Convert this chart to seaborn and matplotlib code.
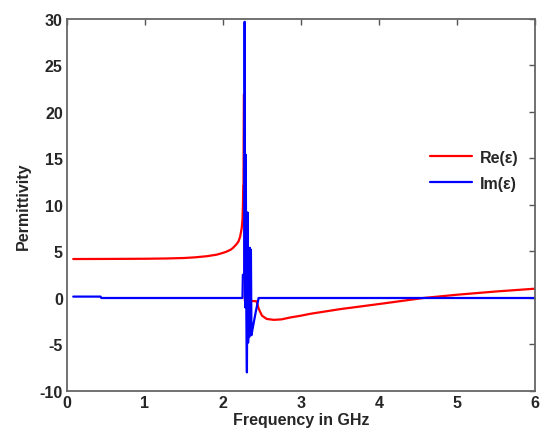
import matplotlib
matplotlib.use("Agg")
import matplotlib.pyplot as plt
import seaborn as sns
import pandas as pd

# Re(eps) (frequency in GHz, permittivity)
re_freq = [0.08, 0.5, 1.0, 1.28, 1.5, 1.64, 1.8, 1.92, 2.0, 2.05, 2.1, 2.13,
           2.17, 2.2, 2.22, 2.24, 2.25, 2.256, 2.26, 2.263, 2.268, 2.272,
           2.28, 2.32, 2.43, 2.46, 2.5, 2.56, 2.65, 2.75, 2.86, 3.0, 3.12,
           3.5, 4.0, 4.57, 5.0, 5.5, 6.0]
re_vals = [4.19, 4.2, 4.22, 4.25, 4.3, 4.37, 4.5, 4.66, 4.85, 5.0, 5.2, 5.4,
           5.75, 6.1, 6.6, 7.5, 8.4, 10.0, 12.0, 12.0, 21.9, 21.9,
           -0.3, -0.3, -0.35, -1.2, -1.9, -2.25, -2.35, -2.3, -2.1, -1.9, -1.7,
           -1.2, -0.65, 0.0, 0.35, 0.7, 1.0]

# Im(eps)
im_freq = [0.08, 0.43, 0.44, 2.25, 2.255, 2.272, 2.278, 2.285, 2.292, 2.300,
           2.307, 2.315, 2.322, 2.330, 2.337, 2.345, 2.352, 2.358, 2.365,
           2.38, 2.42, 2.457, 6.0]
im_vals = [0.15, 0.15, 0.0, 0.0, 2.5, 2.5, 29.7, -1.0, 15.4, -2.0,
           -8.0, 9.2, -4.8, 1.0, -4.2, 5.4, -3.7, 5.2, -4.0,
           -3.3, -1.5, 0.0, 0.0]

x_ticks = [0, 1, 2, 3, 4, 5, 6]
y_ticks = [-10, -5, 0, 5, 10, 15, 20, 25, 30]

df = pd.concat([
    pd.DataFrame({"freq": re_freq, "eps": re_vals, "part": "Re(ε)"}),
    pd.DataFrame({"freq": im_freq, "eps": im_vals, "part": "Im(ε)"}),
], ignore_index=True)

sns.set_style("white")
plt.rcParams["font.family"] = ["Liberation Sans", "DejaVu Sans"]
plt.rcParams["axes.unicode_minus"] = False

fig = plt.figure(figsize=(5.42, 4.31), dpi=100)
ax = fig.add_axes([0.1236, 0.0905, 0.8634, 0.8631])

sns.lineplot(data=df, x="freq", y="eps", hue="part",
             palette={"Re(ε)": "#ff0000", "Im(ε)": "#0000ff"},
             estimator=None, sort=False, linewidth=1.6, ax=ax)

ax.set_xlim(0, 6)
ax.set_ylim(-10, 30)
ax.set_xticks(x_ticks)
ax.set_yticks(y_ticks)
ax.tick_params(direction="in", length=4, width=1, color="#555555",
               top=True, right=True, labelsize=11.5, pad=3)
for lab in ax.get_xticklabels() + ax.get_yticklabels():
    lab.set_fontweight("bold")
for sp in ax.spines.values():
    sp.set_color("#666666")
    sp.set_linewidth(1.3)

ax.set_xlabel("Frequency in GHz", fontsize=11.5, fontweight="bold", labelpad=1)
ax.set_ylabel("Permittivity", fontsize=11.5, fontweight="bold", labelpad=6)

leg = ax.legend(loc="center left", bbox_to_anchor=(0.745, 0.593), frameon=False,
                handlelength=2.6, handletextpad=0.5, labelspacing=0.7,
                prop={"size": 11.5, "weight": "bold"})

fig.savefig("out.png", dpi=100)
